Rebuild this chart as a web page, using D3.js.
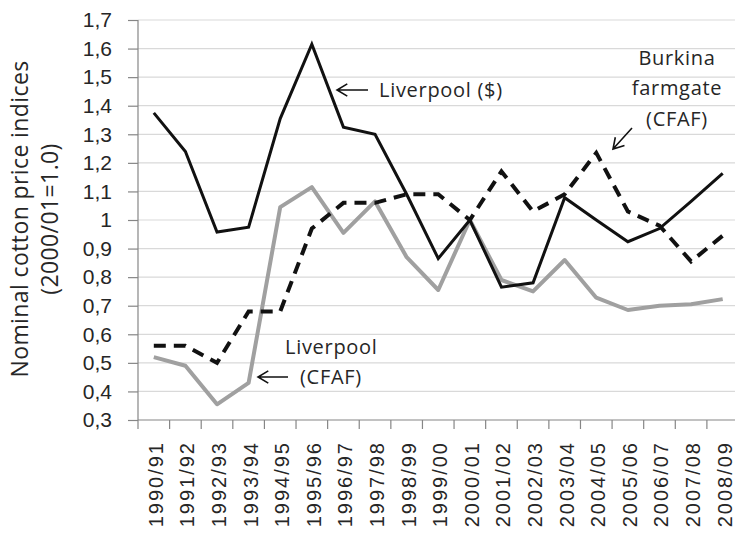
<!DOCTYPE html>
<html>
<head>
<meta charset="utf-8">
<script src="https://cdn.jsdelivr.net/npm/d3@7"></script>
<style>
  body { margin: 0; background: #fff; }
  svg { display: block; font-family: "Open Sans", sans-serif; }
  .grid line { stroke: #d9d9d9; stroke-width: 1.2; }
  .axis path, .axis line { stroke: #868686; stroke-width: 1.2; }
  .axis text { fill: #262626; font-size: 21px; }
  .xlab text { font-size: 20px; letter-spacing: 2px; }
  .note { fill: #262626; font-size: 20px; letter-spacing: 0.7px; }
  .title { fill: #262626; font-size: 23px; letter-spacing: 0.4px; }
</style>
</head>
<body>
<svg width="735" height="537"></svg>
<script>
// seasons on the x axis
const seasons = ["1990/91","1991/92","1992/93","1993/94","1994/95","1995/96","1996/97",
  "1997/98","1998/99","1999/00","2000/01","2001/02","2002/03","2003/04","2004/05",
  "2005/06","2006/07","2007/08","2008/09"]

const liverpoolUsd = [1.375,1.24,0.958,0.975,1.355,1.615,1.325,1.30,1.09,0.865,
  1.0,0.765,0.78,1.078,1.0,0.924,0.97,1.065,1.163]

const burkinaCfaf = [0.56,0.56,0.50,0.68,0.68,0.97,1.06,1.06,1.09,1.09,
  1.0,1.17,1.03,1.09,1.235,1.03,0.98,0.855,0.945]

const liverpoolCfaf = [0.52,0.49,0.355,0.43,1.045,1.115,0.955,1.065,0.87,0.755,
  1.0,0.79,0.75,0.86,0.728,0.685,0.70,0.705,0.723]

const yTicks = [0.3,0.4,0.5,0.6,0.7,0.8,0.9,1.0,1.1,1.2,1.3,1.4,1.5,1.6,1.7]

var svg = d3.select('svg')
var margin = { left: 138, top: 20, right: -3.5, bottom: 117 }
var width = 735 - margin.left - margin.right
var height = 537 - margin.top - margin.bottom

var g = svg.append('g').attr('transform', `translate(${margin.left},${margin.top})`)

var x = d3.scaleBand().domain(seasons).range([0, width])
var y = d3.scaleLinear().domain([0.3, 1.7]).range([height, 0])

const fmt = v => String(Math.round(v * 10) / 10).replace('.', ',')

// gridlines
g.append('g').attr('class', 'grid')
  .selectAll('line')
  .data(yTicks.slice(1))
  .enter()
  .append('line')
  .attr('x1', 0)
  .attr('x2', width)
  .attr('y1', d => y(d))
  .attr('y2', d => y(d))

// y axis
var yAxis = g.append('g').attr('class', 'axis')
  .call(d3.axisLeft(y).tickValues(yTicks).tickFormat(fmt).tickSize(10).tickPadding(16))
yAxis.select('.domain').attr('d', `M0,0V${height}`)

// x axis, ticks between categories
var xAxis = g.append('g').attr('class', 'axis xlab')
  .attr('transform', `translate(0,${height})`)
  .call(d3.axisBottom(x).tickSize(0).tickPadding(0))
xAxis.select('.domain').attr('d', `M0,0H${width}`)
xAxis.selectAll('.tick text')
  .attr('transform', 'rotate(-90)')
  .attr('text-anchor', 'end')
  .attr('dy', '0.35em')
  .attr('x', -21)
  .attr('y', 2)

g.append('g').attr('class', 'axis')
  .selectAll('line')
  .data(d3.range(seasons.length + 1))
  .enter()
  .append('line')
  .attr('x1', i => i * x.step())
  .attr('x2', i => i * x.step())
  .attr('y1', height)
  .attr('y2', height + 9)

// series
var line = d3.line()
  .x((d, i) => x(seasons[i]) + x.bandwidth() / 2)
  .y(d => y(d))

g.append('path').datum(liverpoolCfaf)
  .attr('d', line)
  .attr('fill', 'none')
  .attr('stroke', '#a0a0a0')
  .attr('stroke-width', 4)
  .attr('stroke-linejoin', 'round')

g.append('path').datum(liverpoolUsd)
  .attr('d', line)
  .attr('fill', 'none')
  .attr('stroke', '#111')
  .attr('stroke-width', 3)

g.append('path').datum(burkinaCfaf)
  .attr('d', line)
  .attr('fill', 'none')
  .attr('stroke', '#111')
  .attr('stroke-width', 4)
  .attr('stroke-dasharray', '12,8')

// y title
var title = svg.append('text')
  .attr('class', 'title')
  .attr('text-anchor', 'middle')
  .attr('transform', 'translate(28,219) rotate(-90)')
title.append('tspan').attr('x', 0).attr('y', 0).text('Nominal cotton price indices')
title.append('tspan').attr('x', 0).attr('y', 30).text('(2000/01=1.0)')

// annotations
const arrow = (x1, y1, x2, y2) => {
  var a = Math.atan2(y2 - y1, x2 - x1)
  var h = 12
  var p = d3.path()
  p.moveTo(x1, y1); p.lineTo(x2, y2)
  p.moveTo(x2 + h * Math.cos(a + 2.6), y2 + h * Math.sin(a + 2.6))
  p.lineTo(x2, y2)
  p.lineTo(x2 + h * Math.cos(a - 2.6), y2 + h * Math.sin(a - 2.6))
  svg.append('path').attr('d', p.toString())
    .attr('fill', 'none').attr('stroke', '#111').attr('stroke-width', 1.6)
}

svg.append('text').attr('class', 'note').attr('x', 379).attr('y', 97).text('Liverpool ($)')
arrow(368, 90, 337, 90)

var bf = svg.append('text').attr('class', 'note').attr('text-anchor', 'middle')
bf.append('tspan').attr('x', 677).attr('y', 65).text('Burkina')
bf.append('tspan').attr('x', 677).attr('y', 95).text('farmgate')
bf.append('tspan').attr('x', 677).attr('y', 126).text('(CFAF)')
arrow(632, 128, 613, 149)

svg.append('text').attr('class', 'note').attr('x', 285).attr('y', 354).text('Liverpool')
svg.append('text').attr('class', 'note').attr('x', 300).attr('y', 384).text('(CFAF)')
arrow(288, 377, 258, 377)
</script>
</body>
</html>
